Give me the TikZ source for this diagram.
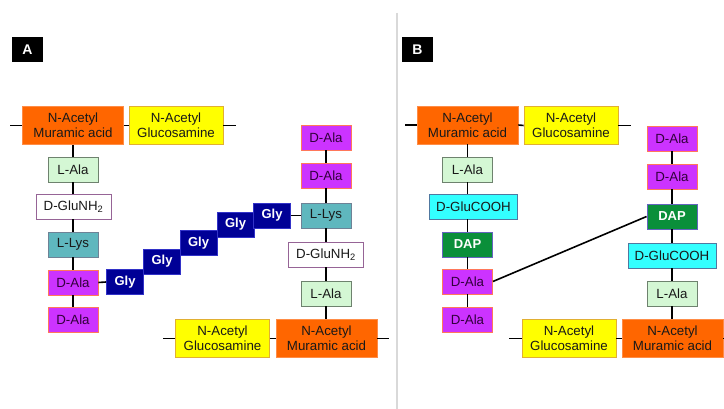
\documentclass[tikz,border=0pt]{standalone}
\usepackage{fontspec}
\setmainfont{Liberation Sans}
\definecolor{murc}{RGB}{255,102,0}
\definecolor{murb}{RGB}{255,140,70}
\definecolor{glcc}{RGB}{255,255,0}
\definecolor{glcb}{RGB}{225,175,50}
\definecolor{alac}{RGB}{212,247,212}
\definecolor{alab}{RGB}{110,130,110}
\definecolor{glub}{RGB}{150,100,150}
\definecolor{lysc}{RGB}{95,183,190}
\definecolor{lysb}{RGB}{110,130,150}
\definecolor{dalac}{RGB}{204,51,255}
\definecolor{dalab}{RGB}{255,120,90}
\definecolor{glyc}{RGB}{0,0,150}
\definecolor{glyb}{RGB}{50,50,200}
\definecolor{coohc}{RGB}{51,255,255}
\definecolor{coohb}{RGB}{80,120,160}
\definecolor{dapc}{RGB}{10,143,58}
\definecolor{dapb}{RGB}{100,100,190}
\definecolor{txt}{RGB}{25,25,25}
\tikzset{
  box/.style={rectangle, inner sep=0pt, line width=0.8pt, align=center,
    font=\fontsize{13.3}{15}\selectfont, text=txt, minimum height=25pt},
  mur/.style={box, fill=murc, draw=murb, minimum width=101pt, minimum height=38pt},
  glc/.style={box, fill=glcc, draw=glcb, minimum width=94pt, minimum height=38pt},
  lala/.style={box, fill=alac, draw=alab, minimum width=50pt},
  glun/.style={box, fill=white, draw=glub, minimum width=75pt},
  lys/.style={box, fill=lysc, draw=lysb, minimum width=50pt},
  dala/.style={box, fill=dalac, draw=dalab, minimum width=50pt, text={rgb,255:red,50;green,0;blue,60}},
  gly/.style={box, fill=glyc, draw=glyb, minimum width=37pt, text=white, font=\fontsize{13}{15}\selectfont\bfseries},
  cooh/.style={box, fill=coohc, draw=coohb, minimum width=88pt},
  dap/.style={box, fill=dapc, draw=dapb, minimum width=50pt, text=white, font=\fontsize{13}{15}\selectfont\bfseries},
  lab/.style={rectangle, fill=black, inner sep=0pt, minimum width=31pt, minimum height=25pt, text=white, font=\fontsize{14}{16}\selectfont\bfseries},
  bond/.style={line width=1.6pt, black},
}
\begin{document}
\begin{tikzpicture}[x=1pt,y=-1pt]
\useasboundingbox (0,0) rectangle (724,409);
\fill[white] (0,0) rectangle (724,409);
% divider
\draw[gray!30, line width=1.5pt] (397,13) -- (397,409);

% ---------- Panel A ----------
\node[lab] (labA) at (27.5,49.5) {A};
\node[mur] (mA1) at (73,125.5) {N-Acetyl\\Muramic acid};
\node[glc] (gA1) at (176,125.5) {N-Acetyl\\Glucosamine};
\node[lala] (aA1) at (73,169.5) {L-Ala};
\node[glun] (uA1) at (73.5,206.5) {D-GluNH\textsubscript{2}};
\node[lys] (kA1) at (73,244.5) {L-Lys};
\node[dala] (dA1) at (73,282.5) {D-Ala};
\node[dala] (eA1) at (73,319.5) {D-Ala};
\node[gly] (y1) at (125,282) {Gly};
\node[gly] (y2) at (162,261.5) {Gly};
\node[gly] (y3) at (198.5,243) {Gly};
\node[gly] (y4) at (235.5,224.5) {Gly};
\node[gly] (y5) at (272,215.5) {Gly};

\node[dala] (eA2) at (326,137.5) {D-Ala};
\node[dala] (dA2) at (326,175.5) {D-Ala};
\node[lys] (kA2) at (326,215.5) {L-Lys};
\node[glun] (uA2) at (326,254.5) {D-GluNH\textsubscript{2}};
\node[lala] (aA2) at (326,293.5) {L-Ala};
\node[mur] (mA2) at (326.5,338.5) {N-Acetyl\\Muramic acid};
\node[glc] (gA2) at (222.5,338.5) {N-Acetyl\\Glucosamine};

\coordinate (tA1) at (10,125.5);
\coordinate (tA2) at (236,125.5);
\coordinate (tA3) at (163,338.5);
\coordinate (tA4) at (389,338.5);

\draw[bond] (tA1) -- (mA1.west);
\draw[bond] (mA1.east) -- (gA1.west);
\draw[bond] (gA1.east) -- (tA2);
\draw[bond] (mA1.south) -- (aA1.north);
\draw[bond] (aA1.south) -- (uA1.north -| aA1.south);
\draw[bond] (uA1.south -| aA1.south) -- (kA1.north);
\draw[bond] (kA1.south) -- (dA1.north);
\draw[bond] (dA1.south) -- (eA1.north);
\draw[bond] (dA1.east) -- (y1.west);
\draw[bond] (y5.east) -- (kA2.west);
\draw[bond] (eA2.south) -- (dA2.north);
\draw[bond] (dA2.south) -- (kA2.north);
\draw[bond] (kA2.south) -- (uA2.north);
\draw[bond] (uA2.south) -- (aA2.north);
\draw[bond] (aA2.south) -- (mA2.north -| aA2.south);
\draw[bond] (tA3) -- (gA2.west);
\draw[bond] (gA2.east) -- (mA2.west);
\draw[bond] (mA2.east) -- (tA4);

% ---------- Panel B ----------
\node[lab] (labB) at (417.5,49.5) {B};
\node[mur] (mB1) at (467.5,125) {N-Acetyl\\Muramic acid};
\node[glc] (gB1) at (571,125.5) {N-Acetyl\\Glucosamine};
\node[lala] (aB1) at (467.5,169.5) {L-Ala};
\node[cooh] (cB1) at (473.5,206.5) {D-GluCOOH};
\node[dap] (pB1) at (467.5,244.5) {DAP};
\node[dala] (dB1) at (467.5,281.5) {D-Ala};
\node[dala] (eB1) at (467.5,319.5) {D-Ala};

\node[dala] (eB2) at (672,138.5) {D-Ala};
\node[dala] (dB2) at (672,176.5) {D-Ala};
\node[dap] (pB2) at (672,216.5) {DAP};
\node[cooh] (cB2) at (672,255.5) {D-GluCOOH};
\node[lala] (aB2) at (672,293.5) {L-Ala};
\node[mur] (mB2) at (672.5,338.5) {N-Acetyl\\Muramic acid};
\node[glc] (gB2) at (569,338.5) {N-Acetyl\\Glucosamine};

\coordinate (tB1) at (405,125);
\coordinate (tB2) at (631,125.5);
\coordinate (tB3) at (509,338.5);
\coordinate (tB4) at (724,338.5);

\draw[bond] (tB1) -- (mB1.west);
\draw[bond] (mB1.east) -- (gB1.west);
\draw[bond] (gB1.east) -- (tB2);
\draw[bond] (mB1.south) -- (aB1.north);
\draw[bond] (aB1.south) -- (cB1.north -| aB1.south);
\draw[bond] (cB1.south -| aB1.south) -- (pB1.north);
\draw[bond] (pB1.south) -- (dB1.north);
\draw[bond] (dB1.south) -- (eB1.north);
\draw[bond] (dB1.east) -- (pB2.west);
\draw[bond] (eB2.south) -- (dB2.north);
\draw[bond] (dB2.south) -- (pB2.north);
\draw[bond] (pB2.south) -- (cB2.north);
\draw[bond] (cB2.south) -- (aB2.north);
\draw[bond] (aB2.south) -- (mB2.north -| aB2.south);
\draw[bond] (tB3) -- (gB2.west);
\draw[bond] (gB2.east) -- (mB2.west);
\draw[bond] (mB2.east) -- (tB4);
\end{tikzpicture}
\end{document}
